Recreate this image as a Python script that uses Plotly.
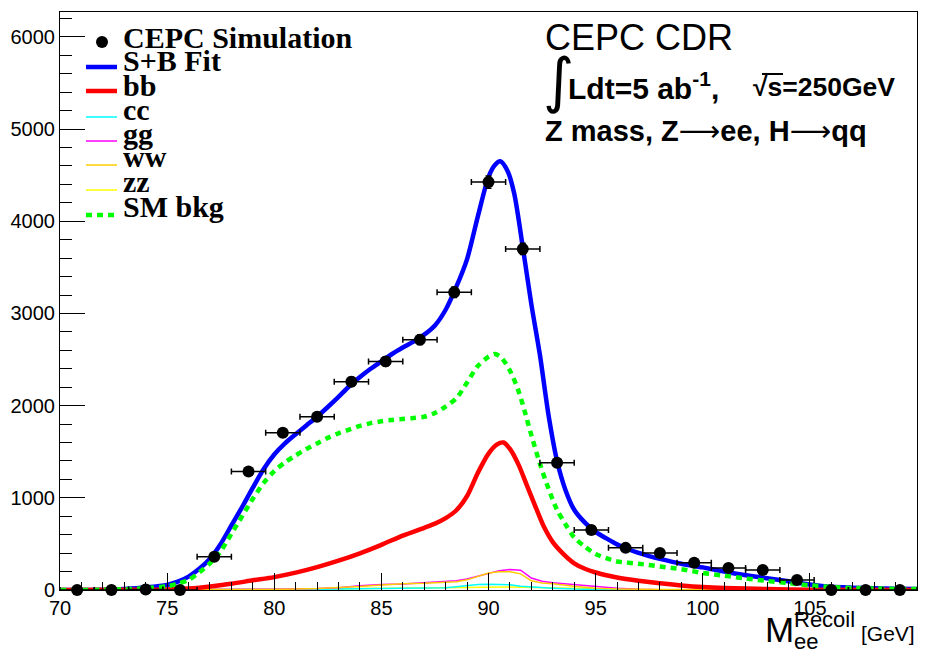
import plotly.graph_objects as go

# ---------------- data ----------------
bin_centers = [70.8, 72.4, 74.0, 75.6, 77.2, 78.8, 80.4, 82.0, 83.6, 85.2, 86.8, 88.4, 90.0,
               91.6, 93.2, 94.8, 96.4, 98.0, 99.6, 101.2, 102.8, 104.4, 106.0, 107.6, 109.2]
bin_half_width = [0.8] * 25
data_counts = [0, 0, 5, 0, 360, 1285, 1705, 1880, 2260, 2480, 2715, 3230, 4425,
               3700, 1380, 652, 457, 402, 295, 240, 218, 108, 0, 0, 0]
data_errors = [0, 0, 2, 0, 19, 36, 41, 43, 48, 50, 52, 57, 67,
               61, 37, 26, 21, 20, 17, 15, 15, 10, 0, 0, 0]

fit_x = [70, 71, 72, 73, 74, 75, 75.5, 76, 76.5, 77, 77.5, 78, 78.5, 79, 79.5, 80, 80.5, 81,
         81.5, 82, 82.5, 83, 83.5, 84, 84.5, 85, 85.5, 86, 86.5, 87, 87.5, 88, 88.5, 89, 89.5,
         90, 90.3, 90.55, 90.9, 91.2, 91.6, 92, 92.4, 92.8, 93.2, 93.6, 94, 94.5, 95, 95.5, 96,
         96.5, 97, 97.5, 98, 99, 100, 101, 102, 103, 104, 105, 106, 107, 108, 109, 110]
sb_fit = [0, 0, 3, 12, 28, 55, 90, 145, 230, 340, 500, 700, 900, 1110, 1310, 1470, 1590, 1690,
          1785, 1880, 1985, 2095, 2210, 2310, 2400, 2480, 2560, 2630, 2695, 2770, 2870, 3040,
          3290, 3590, 4050, 4480, 4610, 4650, 4540, 4300, 3720, 3100, 2550, 1900, 1400, 1080,
          870, 730, 630, 560, 495, 445, 402, 368, 338, 285, 245, 200, 160, 128, 95, 60, 35, 25,
          18, 13, 10]

bkg_x = [70, 72, 73, 74, 75, 75.5, 76, 76.5, 77, 77.5, 78, 78.5, 79, 79.5, 80, 80.5, 81, 81.5,
         82, 82.5, 83, 83.5, 84, 84.5, 85, 85.5, 86, 86.5, 87, 87.5, 88, 88.5, 89, 89.5, 90,
         90.3, 90.6, 91, 91.4, 91.7, 92, 92.4, 92.8, 93.2, 93.6, 94, 94.5, 95, 95.5, 96, 97, 98,
         99, 100, 101, 102, 103, 104, 105, 106, 107, 108, 109, 110]
sm_bkg = [0, 2, 8, 20, 40, 70, 110, 190, 290, 420, 610, 800, 990, 1160, 1290, 1385, 1460, 1530,
          1590, 1650, 1700, 1740, 1780, 1810, 1830, 1845, 1855, 1865, 1880, 1920, 1990, 2080,
          2250, 2430, 2530, 2560, 2520, 2380, 2160, 1930, 1680, 1370, 1100, 870, 710, 570, 470,
          390, 345, 310, 285, 255, 225, 185, 155, 125, 98, 75, 50, 33, 22, 16, 12, 10]

bb_x = [70, 73, 75, 76, 76.5, 77, 78, 79, 80, 81, 82, 83, 84, 85, 86, 87, 87.5, 88, 88.5, 89,
        89.5, 90, 90.4, 90.7, 91, 91.4, 91.8, 92.2, 92.6, 93, 93.5, 94, 94.5, 95, 95.5, 96, 97,
        98, 99, 100, 101, 102, 103, 104, 105, 110]
bb = [0, 2, 5, 15, 25, 38, 68, 105, 140, 188, 248, 318, 398, 490, 590, 675, 720, 780, 865, 1020,
      1270, 1480, 1580, 1600, 1530, 1360, 1130, 900, 680, 520, 390, 290, 230, 190, 160, 135, 100,
      72, 50, 33, 22, 15, 10, 5, 2, 0]

small_x = [70, 78, 80, 82, 83, 84, 85, 86, 87, 88, 88.5, 89, 89.5, 90, 90.5, 91, 91.5, 92, 92.5,
           93, 94, 95, 96, 97, 98, 110]
cc = [0, 0, 3, 6, 10, 12, 14, 15, 18, 25, 35, 50, 60, 62, 62, 58, 40, 32, 25, 20, 10, 5, 3, 0, 0, 0]
gg = [0, 3, 8, 15, 25, 45, 60, 65, 80, 90, 100, 120, 150, 185, 210, 222, 215, 130, 95, 78, 58, 40,
      20, 8, 3, 0]
ww = [0, 2, 6, 15, 25, 37, 55, 68, 72, 80, 90, 110, 145, 185, 198, 198, 175, 100, 75, 68, 40, 20,
      12, 8, 5, 0]
zz = [0, 3, 6, 10, 12, 15, 18, 20, 25, 28, 30, 32, 33, 33, 33, 32, 30, 28, 25, 22, 15, 10, 5, 3, 0, 0]

legend_labels = ["CEPC Simulation", "S+B Fit", "bb", "cc", "gg", "ww", "zz", "SM bkg"]
x_tick_vals = [70, 75, 80, 85, 90, 95, 100, 105, 110]
y_tick_vals = [0, 1000, 2000, 3000, 4000, 5000, 6000]

# ---------------- figure ----------------
W, H = 932, 649
L, R, T, B = 60, 15, 12, 59
PW, PH = W - L - R, H - T - B


def pxx(px):
    return (px - L) / PW


def pyy(py):
    return (H - B - py) / PH


fig = go.Figure()

ORANGE = "#ffcc00"
fig.add_trace(go.Scatter(x=small_x, y=zz, mode="lines", line=dict(color="#ffff00", width=1.5), name="zz"))
fig.add_trace(go.Scatter(x=small_x, y=cc, mode="lines", line=dict(color="#00ffff", width=1.5), name="cc"))
fig.add_trace(go.Scatter(x=small_x, y=gg, mode="lines", line=dict(color="#ff00ff", width=1.5), name="gg"))
fig.add_trace(go.Scatter(x=small_x, y=ww, mode="lines", line=dict(color=ORANGE, width=1.5), name="ww"))
fig.add_trace(go.Scatter(x=fit_x, y=sb_fit, mode="lines", line=dict(color="#0000ff", width=4.5, shape="spline", smoothing=0.8), name="S+B Fit"))
fig.add_trace(go.Scatter(x=bb_x, y=bb, mode="lines", line=dict(color="#ff0000", width=4.5, shape="spline", smoothing=0.8), name="bb"))
fig.add_trace(go.Scatter(x=bkg_x, y=sm_bkg, mode="lines", line=dict(color="#00ff00", width=4.5, dash="6px,5px", shape="spline", smoothing=0.8), name="SM bkg"))
fig.add_trace(go.Scatter(
    x=bin_centers, y=data_counts, mode="markers", name="CEPC Simulation",
    marker=dict(color="black", size=12),
    error_x=dict(type="data", array=bin_half_width, color="black", thickness=1.5, width=3),
    error_y=dict(type="data", array=data_errors, color="black", thickness=1.5, width=3),
    cliponaxis=False,
))

tickfont = dict(family="Liberation Sans, Arial, sans-serif", size=20, color="black")
fig.update_xaxes(range=[70, 110], tickvals=x_tick_vals, ticks="inside", ticklen=17, tickwidth=1,
                 tickcolor="black", minor=dict(dtick=1, tick0=70, ticks="inside", ticklen=8, tickcolor="black", tickwidth=1),
                 showline=True, linecolor="black", linewidth=1, mirror=True, showgrid=False,
                 zeroline=False, tickfont=tickfont, automargin=False)
fig.update_yaxes(range=[0, 6270], tickvals=y_tick_vals, ticks="inside", ticklen=25, tickwidth=1,
                 tickcolor="black", minor=dict(dtick=200, tick0=0, ticks="inside", ticklen=12, tickcolor="black", tickwidth=1),
                 showline=True, linecolor="black", linewidth=1, mirror=True, showgrid=False,
                 zeroline=False, tickfont=tickfont, automargin=False)

ann = []
shapes = []
serif = "Liberation Serif, Times New Roman, serif"
sans = "Liberation Sans, Arial, sans-serif"

# manual legend (ROOT-style)
leg_colors = [None, "#0000ff", "#ff0000", "#00ffff", "#ff00ff", ORANGE, "#ffff00", "#00ff00"]
leg_widths = [0, 4.5, 4.5, 1.5, 1.5, 1.5, 1.5, 4.5]
leg_line_y = [42, 67, 91, 117, 141, 165, 190, 215]
leg_text_y = [37, 61, 85, 109, 133, 157, 182, 207]
for i, lab in enumerate(legend_labels):
    ann.append(dict(x=pxx(121), y=pyy(leg_text_y[i]), xref="paper", yref="paper", text="<b>%s</b>" % lab,
                    showarrow=False, xanchor="left", yanchor="middle",
                    font=dict(family=serif, size=30, color="black")))
    if i == 0:
        shapes.append(dict(type="circle", xref="paper", yref="paper", xsizemode="pixel", ysizemode="pixel",
                           xanchor=pxx(102), yanchor=pyy(leg_line_y[0]), x0=-6, x1=6, y0=-6, y1=6,
                           fillcolor="black", line=dict(width=0)))
    else:
        shapes.append(dict(type="line", xref="paper", yref="paper", x0=pxx(86), x1=pxx(117),
                           y0=pyy(leg_line_y[i]), y1=pyy(leg_line_y[i]),
                           line=dict(color=leg_colors[i], width=leg_widths[i],
                                     dash="6px,5px" if i == 7 else "solid")))

arrow = "<span style='font-family:DejaVu Sans;font-weight:normal'>⟶</span>"

# top-right labels
ann.append(dict(x=pxx(543), y=pyy(37), xref="paper", yref="paper", text="CEPC CDR", showarrow=False,
                xanchor="left", yanchor="middle", font=dict(family=sans, size=36, color="black")))
ann.append(dict(x=pxx(541), y=pyy(80), xref="paper", yref="paper", text="∫", showarrow=False,
                xanchor="left", yanchor="middle", font=dict(family="DejaVu Sans", size=60, color="black")))
ann.append(dict(x=pxx(566), y=pyy(86), xref="paper", yref="paper",
                text="<b>Ldt=5 ab<sup>-1</sup>,</b>",
                showarrow=False, xanchor="left", yanchor="middle", font=dict(family=sans, size=30, color="black")))
ann.append(dict(x=pxx(751), y=pyy(87), xref="paper", yref="paper",
                text="<b>√s=250GeV</b>",
                showarrow=False, xanchor="left", yanchor="middle", font=dict(family=sans, size=26.5, color="black")))
shapes.append(dict(type="line", xref="paper", yref="paper", x0=pxx(762), x1=pxx(783),
                   y0=pyy(74), y1=pyy(74), line=dict(color="black", width=2)))
ann.append(dict(x=pxx(543), y=pyy(131), xref="paper", yref="paper",
                text="<b>Z mass, Z%see, H%sqq</b>" % (arrow, arrow), showarrow=False, xanchor="left", yanchor="middle",
                font=dict(family=sans, size=29, color="black")))

# x-axis title
ann.append(dict(x=pxx(763), y=pyy(629), xref="paper", yref="paper", text="M", showarrow=False,
                xanchor="left", yanchor="middle", font=dict(family=sans, size=35, color="black")))
ann.append(dict(x=pxx(792), y=pyy(619), xref="paper", yref="paper", text="Recoil", showarrow=False,
                xanchor="left", yanchor="middle", font=dict(family=sans, size=22, color="black")))
ann.append(dict(x=pxx(792), y=pyy(641), xref="paper", yref="paper", text="ee", showarrow=False,
                xanchor="left", yanchor="middle", font=dict(family=sans, size=22, color="black")))
ann.append(dict(x=pxx(859), y=pyy(633), xref="paper", yref="paper", text="[GeV]", showarrow=False,
                xanchor="left", yanchor="middle", font=dict(family=sans, size=21, color="black")))

fig.update_layout(width=W, height=H, margin=dict(l=L, r=R, t=T, b=B, pad=0),
                  plot_bgcolor="white", paper_bgcolor="white", showlegend=False,
                  annotations=ann, shapes=shapes)

fig.write_html("out.html", config={"displayModeBar": False},
               post_script="document.body.style.margin='0';document.body.style.padding='0';")
